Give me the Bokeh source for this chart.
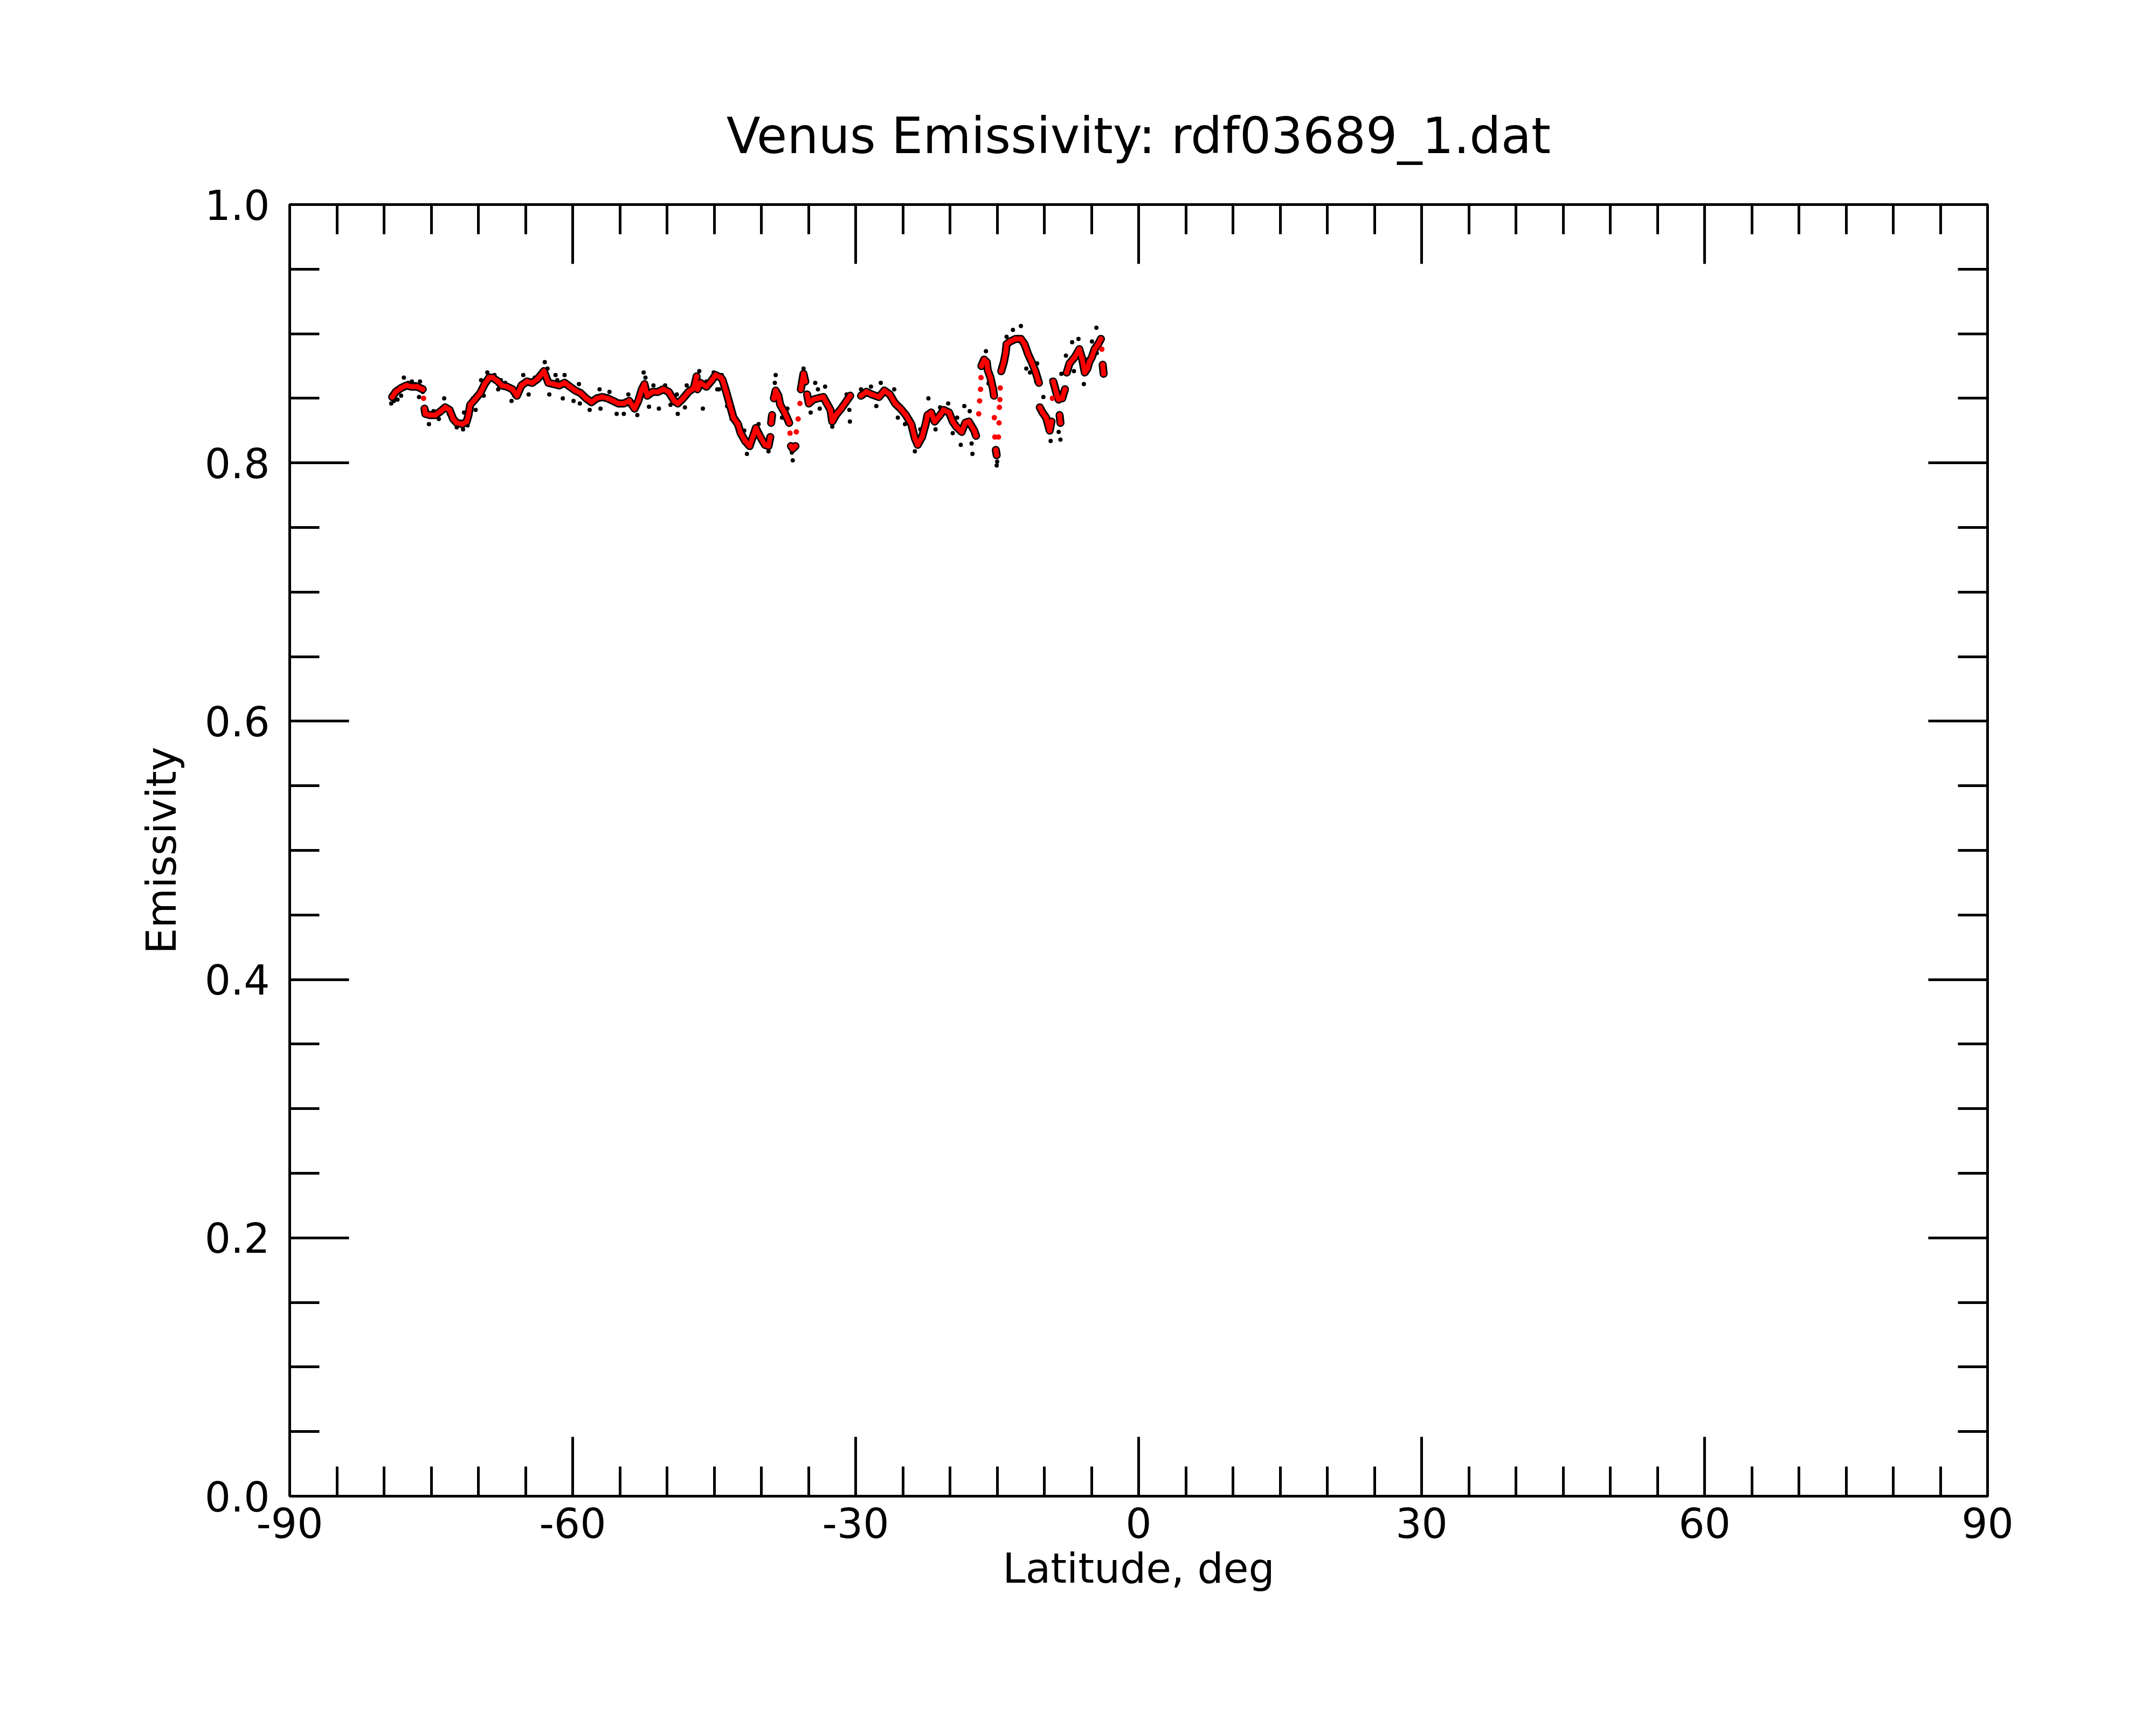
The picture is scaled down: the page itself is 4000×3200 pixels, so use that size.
import math
from bokeh.plotting import figure
from bokeh.models import Range1d, LinearAxis, SingleIntervalTicker, PrintfTickFormatter, CustomJSTickFormatter
from bokeh.embed import file_html
from bokeh.resources import INLINE

NAN = float("nan")

# Raw emissivity samples (black dots); NaN marks gaps in the track
raw_lat = [-79.24, -78.95, -78.57, -78.19, -77.90, -77.43, -77.05, -76.67, -76.29, -76.19,
           -75.90, -75.43, -75.24, -74.76, -74.19, -73.62, -73.14, -72.86, -72.29, -71.62,
           -71.52, -71.14, -70.57, -70.29, -69.71, -69.43, -69.05, -68.29, -67.90, -67.62,
           -67.15, -66.48, -66.20, -65.24, -64.67, -64.01, -62.96, -62.67, -62.48, -61.82,
           -61.63, -61.05, -60.86, -59.91, -59.34, -59.24, -58.20, -57.15, -57.05, -56.10,
           -55.34, -54.58, -54.10, -53.15, -52.48, -52.29, -51.91, -51.44, -50.86, -50.20,
           -49.63, -48.96, -48.86, -48.10, -47.91, -46.58, -46.20, -45.82, -45.05, -44.67,
           -44.48, -44.20, -43.63, -43.15, -43.05, -41.81, -41.53, -40.29, -39.24, -38.57,
           -38.48, -37.81, -37.24, -36.76, -36.67, -35.53, -34.77, -34.29, -34.00, -33.81,
           -33.24, -32.48, -30.96, -30.67, -30.61, NAN,
           -29.43, -28.38, -27.81, -27.34, -25.91, -25.53, -24.77, -23.72, -23.15, -22.29,
           -21.53, -21.05, -20.19, -19.71, -19.24, -18.86, -18.48, -17.91, -17.71, -17.62, NAN,
           -16.19, -15.91, NAN,
           -15.05, -15.00, NAN,
           -14.00, -13.33, -12.48, -11.91, -11.52, -10.86, -10.76, -10.10, -10.00, -9.33,
           -9.24, -8.48, -8.29, -8.19, -7.71, -7.05, -6.86, -6.38, -5.81, -5.43,
           -4.95, -4.48, -4.44]
raw_emis = [0.846, 0.848, 0.849, 0.852, 0.866, 0.862, 0.863, 0.861, 0.851, 0.863,
            0.855, 0.840, 0.830, 0.840, 0.834, 0.850, 0.838, 0.840, 0.8275, 0.826,
            0.839, 0.829, 0.850, 0.841, 0.864, 0.852, 0.870, 0.868, 0.857, 0.864,
            0.862, 0.848, 0.852, 0.868, 0.853, 0.866, 0.878, 0.873, 0.853, 0.868,
            0.864, 0.850, 0.868, 0.848, 0.861, 0.846, 0.841, 0.857, 0.842, 0.855,
            0.838, 0.838, 0.853, 0.837, 0.870, 0.866, 0.8435, 0.860, 0.842, 0.860,
            0.845, 0.853, 0.838, 0.843, 0.860, 0.871, 0.842, 0.863, 0.870, 0.857,
            0.857, 0.868, 0.844, 0.834, 0.843, 0.825, 0.807, 0.830, 0.809, 0.862,
            0.868, 0.835, 0.842, 0.808, 0.802, 0.873, 0.839, 0.862, 0.857, 0.842,
            0.859, 0.828, 0.853, 0.841, 0.832, NAN,
            0.857, 0.859, 0.844, 0.862, 0.857, 0.835, 0.830, 0.809, 0.826, 0.850,
            0.826, 0.843, 0.846, 0.823, 0.835, 0.814, 0.844, 0.840, 0.815, 0.807, NAN,
            0.8865, 0.8615, NAN,
            0.798, 0.801, NAN,
            0.8976, 0.903, 0.906, 0.873, 0.870, 0.863, 0.877, 0.851, 0.837, 0.817,
            0.864, 0.824, 0.818, 0.869, 0.883, 0.8935, 0.871, 0.896, 0.861, 0.880,
            0.894, 0.9046, 0.885]

# Smoothed emissivity (red dots)
smooth_lat = [-79.14, -78.76, -78.19, -77.62, -77.05, -76.48, -75.90, -75.81, -75.71, -75.62,
              -75.14, -74.57, -74.00, -73.52, -73.05, -72.67, -72.29, -71.71, -71.24, -71.05,
              -70.86, -70.38, -69.81, -69.33, -68.86, -68.48, -67.90, -67.53, -66.96, -66.39,
              -65.91, -65.43, -64.86, -64.29, -63.72, -63.05, -62.58, -62.01, -61.43, -60.86,
              -60.29, -59.72, -59.15, -58.58, -58.01, -57.43, -56.86, -56.29, -55.72, -55.15,
              -54.58, -54.01, -53.44, -53.05, -52.67, -52.39, -52.10, -51.53, -50.96, -50.39,
              -49.82, -49.24, -48.86, -48.29, -47.72, -47.15, -46.86, -46.77, -46.48, -45.82,
              -45.24, -44.86, -44.29, -44.10, -43.72, -43.34, -42.96, -42.48, -42.19, -41.72,
              -41.24, -40.86, -40.58, -40.10, -39.62, -39.24, -39.05, -38.96, -38.86, -38.67,
              -38.48, -38.19, -38.00, -37.53, -37.05, -36.96, -36.86, -36.67, -36.38, -36.29,
              -36.10, -35.91, -35.81, -35.53, -35.34, -35.15, -34.96, -34.48, -34.00, -33.43,
              -33.05, -32.67, -32.48, -32.10, -31.53, -30.96, -30.58, -29.43, -28.86, -28.29,
              -27.53, -26.96, -26.38, -25.81, -25.24, -24.67, -24.10, -23.72, -23.43, -22.96,
              -22.58, -22.38, -22.00, -21.62, -21.05, -20.67, -20.10, -19.71, -19.33, -18.76,
              -18.38, -18.00, -17.43, -17.24, -16.95, -16.86, -16.76, -16.71, -16.67, -16.38,
              -16.10, -16.00, -15.71, -15.43, -15.33, -15.30, -15.24, -15.14, -15.05, -14.86,
              -14.80, -14.76, -14.71, -14.67, -14.57, -14.29, -14.10, -14.00, -13.62, -13.05,
              -12.48, -12.10, -11.71, -11.33, -10.95, -10.57, -10.48, -10.19, -9.81, -9.43,
              -9.24, -9.14, -9.05, -8.67, -8.48, -8.38, -8.29, -8.10, -7.81, -7.62,
              -7.33, -6.76, -6.29, -6.00, -5.71, -5.43, -5.24, -4.95, -4.67, -4.29,
              -4.00, -3.90, -3.81, -3.71]
smooth_emis = [0.851, 0.855, 0.858, 0.860, 0.859, 0.859, 0.857, 0.850, 0.842, 0.838,
               0.837, 0.837, 0.840, 0.843, 0.841, 0.834, 0.831, 0.830, 0.832, 0.837,
               0.845, 0.849, 0.854, 0.861, 0.866, 0.866, 0.863, 0.860, 0.859, 0.857,
               0.852, 0.860, 0.863, 0.862, 0.865, 0.871, 0.862, 0.861, 0.860, 0.862,
               0.859, 0.856, 0.854, 0.850, 0.847, 0.850, 0.851, 0.850, 0.848, 0.846,
               0.846, 0.848, 0.842, 0.848, 0.857, 0.861, 0.852, 0.855, 0.855, 0.857,
               0.855, 0.848, 0.846, 0.850, 0.855, 0.858, 0.867, 0.857, 0.862, 0.859,
               0.864, 0.868, 0.866, 0.864, 0.855, 0.845, 0.835, 0.830, 0.823, 0.817,
               0.813, 0.821, 0.827, 0.820, 0.814, 0.813, 0.820, 0.831, 0.837, 0.850,
               0.856, 0.852, 0.845, 0.839, 0.831, 0.823, 0.813, 0.811, 0.813, 0.824,
               0.834, 0.846, 0.857, 0.869, 0.863, 0.853, 0.846, 0.849, 0.850, 0.851,
               0.846, 0.841, 0.832, 0.837, 0.842, 0.848, 0.852, 0.852, 0.855, 0.853,
               0.851, 0.856, 0.853, 0.846, 0.842, 0.837, 0.830, 0.819, 0.814, 0.820,
               0.830, 0.837, 0.839, 0.832, 0.837, 0.841, 0.839, 0.832, 0.828, 0.824,
               0.831, 0.832, 0.825, 0.821, 0.838, 0.848, 0.857, 0.866, 0.875, 0.880,
               0.878, 0.872, 0.866, 0.857, 0.852, 0.835, 0.820, 0.810, 0.806, 0.820,
               0.831, 0.843, 0.849, 0.858, 0.871, 0.878, 0.885, 0.892, 0.894, 0.896,
               0.896, 0.892, 0.884, 0.878, 0.871, 0.862, 0.843, 0.839, 0.835, 0.825,
               0.832, 0.850, 0.863, 0.853, 0.849, 0.837, 0.831, 0.850, 0.857, 0.870,
               0.877, 0.882, 0.888, 0.881, 0.870, 0.873, 0.878, 0.882, 0.888, 0.892,
               0.896, 0.888, 0.876, 0.869]

TITLE = "Venus Emissivity: rdf03689_1.dat"
X_LABEL = "Latitude, deg"
Y_LABEL = "Emissivity"
FONT = "DejaVu Sans"

p = figure(width=3984, height=3184, output_backend="svg", toolbar_location=None,
           x_range=Range1d(-90, 90), y_range=Range1d(0, 1),
           x_axis_location=None, y_axis_location=None,
           min_border_left=537, min_border_right=297, min_border_top=379, min_border_bottom=409,
           title=TITLE)
p.grid.visible = False
p.background_fill_color = "white"
p.border_fill_color = "white"
p.outline_line_color = "black"
p.outline_line_width = 5

p.title.text_font = FONT
p.title.text_font_size = "92px"
p.title.text_font_style = "normal"
p.title.text_color = "black"
p.title.align = "center"
p.title.standoff = 147


def styled_axis(ticker, fmt):
    ax = LinearAxis(ticker=ticker, formatter=fmt)
    ax.axis_line_color = "black"
    ax.axis_line_width = 5
    ax.major_tick_line_color = "black"
    ax.major_tick_line_width = 5
    ax.minor_tick_line_color = "black"
    ax.minor_tick_line_width = 5
    ax.major_tick_in = 110
    ax.major_tick_out = 0
    ax.minor_tick_in = 55
    ax.minor_tick_out = 0
    ax.major_label_text_font = FONT
    ax.major_label_text_font_size = "76px"
    ax.major_label_text_color = "black"
    ax.axis_label_text_font = FONT
    ax.axis_label_text_font_size = "76px"
    ax.axis_label_text_font_style = "normal"
    ax.axis_label_text_color = "black"
    return ax


blank = CustomJSTickFormatter(code="return '';")

xb = styled_axis(SingleIntervalTicker(interval=30, num_minor_ticks=6), PrintfTickFormatter(format="%d"))
xb.axis_label = X_LABEL
xb.major_label_standoff = 21
xb.axis_label_standoff = 9
p.add_layout(xb, "below")

xt = styled_axis(SingleIntervalTicker(interval=30, num_minor_ticks=6), blank)
xt.major_label_standoff = 0
p.add_layout(xt, "above")

yl = styled_axis(SingleIntervalTicker(interval=0.2, num_minor_ticks=4), PrintfTickFormatter(format="%.1f"))
yl.axis_label = Y_LABEL
yl.major_label_standoff = 37
yl.axis_label_standoff = 33
p.add_layout(yl, "left")

yr = styled_axis(SingleIntervalTicker(interval=0.2, num_minor_ticks=4), blank)
yr.major_label_standoff = 0
p.add_layout(yr, "right")

# Smoothed series is drawn as dots; where neighbouring dots sit close on screen they are
# also joined, so the dense runs read as the continuous trace of the picture.
PX_PER_DEG = 3150 / 180.0
PX_PER_UNIT = 2396.0
seg_x, seg_y = [], []
cx, cy = [smooth_lat[0]], [smooth_emis[0]]
for i in range(1, len(smooth_lat)):
    dx = (smooth_lat[i] - smooth_lat[i - 1]) * PX_PER_DEG
    dy = abs(smooth_emis[i] - smooth_emis[i - 1]) * PX_PER_UNIT
    if dy < 4.0 * dx + 10 and dx < 20:
        cx.append(smooth_lat[i])
        cy.append(smooth_emis[i])
    else:
        seg_x.append(cx)
        seg_y.append(cy)
        cx, cy = [smooth_lat[i]], [smooth_emis[i]]
seg_x.append(cx)
seg_y.append(cy)

# band of the raw samples that sits underneath the smoothed trace
p.multi_line(seg_x, seg_y, line_color="black", line_width=15, line_join="round", line_cap="round")
# raw samples that stand out of the band
p.scatter(raw_lat, raw_emis, size=8, fill_color="black", line_color=None)
# smoothed trace
p.multi_line(seg_x, seg_y, line_color="red", line_width=9, line_join="round", line_cap="round")
p.scatter(smooth_lat, smooth_emis, size=10, fill_color="red", line_color=None)

open("out.html", "w").write(file_html(p, INLINE))
